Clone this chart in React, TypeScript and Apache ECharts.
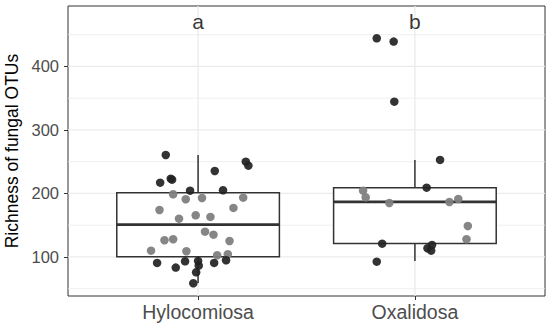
import React, { useEffect, useRef } from "react";
import * as echarts from "echarts";

const categories = ["Hylocomiosa", "Oxalidosa"];
const letters = ["a", "b"];
const yTicks = [100, 200, 300, 400];
const yMinorGrid = [50, 150, 250, 350, 450];
const xTicks = [1, 2];
const yTitle = "Richness of fungal OTUs";

// box stats per category: [lower whisker, Q1, median, Q3, upper whisker]
const hyloBox = [59, 100.5, 151, 201, 260.6];
const oxaBox = [93.7, 121, 186.6, 209, 252.8];

// jittered points: [horizontal jitter offset, richness]
const hyloDark = [
  [-0.149, 260.6], [0.22, 250.1], [0.232, 243.8], [0.077, 235.4], [-0.126, 223.3],
  [-0.12, 221.7], [-0.175, 217], [-0.037, 204.4], [0.115, 205], [-0.189, 90.6],
  [-0.103, 83.2], [-0.06, 93.2], [0.0, 93.7], [0.003, 86.3], [-0.009, 75.9],
  [-0.022, 58.6], [0.074, 90.6], [0.129, 94.8],
];
const hyloGrey = [
  [-0.115, 198.7], [-0.057, 190.9], [0.018, 192.9], [0.208, 193.4], [-0.178, 174],
  [0.163, 177.2], [-0.088, 160.3], [-0.011, 165.6], [0.057, 163], [0.032, 139.8],
  [0.071, 135.1], [-0.155, 126.3], [-0.115, 127.9], [0.145, 125.2], [-0.217, 109.9],
  [-0.054, 109], [0.088, 102.7], [0.137, 104.3],
];
const oxaDark = [
  [-0.176, 444.4], [-0.098, 439.1], [-0.095, 344.6], [0.116, 252.8], [0.054, 209.1],
  [-0.151, 120.9], [0.079, 118.9], [0.058, 113.7], [0.075, 109.9], [-0.176, 92.6],
];
const oxaGrey = [
  [-0.239, 204.4], [-0.227, 194], [-0.118, 185], [0.159, 186.6], [0.2, 191.3],
  [0.244, 148.8], [0.238, 127.9],
];

const letterY = 471;
const FONT = "'Liberation Sans', Arial, sans-serif";

export default function App() {
  const ref = useRef<HTMLDivElement>(null);
  useEffect(() => {
    if (!ref.current) return;
    const chart = echarts.init(ref.current, undefined, { renderer: "svg" });

    const toPts = (arr: number[][], xc: number) => arr.map((p) => [xc + p[0], p[1]]);
    const dark = [...toPts(hyloDark, 1), ...toPts(oxaDark, 2)];
    const grey = [...toPts(hyloGrey, 1), ...toPts(oxaGrey, 2)];

    const gridData = [
      ...yTicks.map((v) => [0, v, 1]),
      ...yMinorGrid.map((v) => [0, v, 0]),
      ...xTicks.map((v) => [1, v, 1]),
    ];

    const boxData = [
      [1, ...hyloBox],
      [2, ...oxaBox],
    ];

    chart.setOption({
      animation: false,
      grid: {
        left: 68,
        right: 5,
        top: 6,
        bottom: 31,
        show: true,
        borderColor: "#333333",
        borderWidth: 1,
        backgroundColor: "#ffffff",
        containLabel: false,
        outerBoundsMode: "none",
      },
      xAxis: {
        type: "value",
        min: 0.4,
        max: 2.6,
        splitLine: { show: false },
        axisLine: { show: false },
        axisTick: { show: true, length: 4, customValues: xTicks, lineStyle: { color: "#333333", width: 1 } },
        axisLabel: {
          customValues: xTicks,
          formatter: (v: number) => categories[Math.round(v) - 1] ?? "",
          fontSize: 19.5,
          fontFamily: FONT,
          color: "#4d4d4d",
          margin: 6,
        },
      },
      yAxis: {
        type: "value",
        min: 38.5,
        max: 495.2,
        splitLine: { show: false },
        axisLine: { show: false },
        axisTick: { show: true, length: 4, customValues: yTicks, lineStyle: { color: "#333333", width: 1 } },
        axisLabel: {
          customValues: yTicks,
          fontSize: 16.5,
          fontFamily: FONT,
          color: "#4d4d4d",
          margin: 9,
        },
        name: yTitle,
        nameLocation: "middle",
        nameRotate: 90,
        nameGap: 41,
        nameTextStyle: { fontSize: 17.5, fontFamily: FONT, color: "#000000" },
      },
      series: [
        {
          type: "custom",
          z: 1,
          silent: true,
          data: gridData,
          renderItem: (params: any, api: any) => {
            const cs = params.coordSys;
            const isX = api.value(0) === 1;
            const v = api.value(1);
            const major = api.value(2) === 1;
            const style = { stroke: "#ebebeb", lineWidth: major ? 1.3 : 0.8 };
            if (isX) {
              const x = api.coord([v, 100])[0];
              return { type: "line", shape: { x1: x, y1: cs.y, x2: x, y2: cs.y + cs.height }, style };
            }
            const y = api.coord([1, v])[1];
            return { type: "line", shape: { x1: cs.x, y1: y, x2: cs.x + cs.width, y2: y }, style };
          },
        },
        {
          type: "custom",
          z: 2,
          silent: true,
          data: boxData,
          renderItem: (params: any, api: any) => {
            const x = api.value(0);
            const lo = api.value(1), q1 = api.value(2), med = api.value(3), q3 = api.value(4), hi = api.value(5);
            const xl = api.coord([x - 0.375, q3])[0];
            const xr = api.coord([x + 0.375, q3])[0];
            const cx = api.coord([x, q3])[0];
            const yLo = api.coord([x, lo])[1];
            const yQ1 = api.coord([x, q1])[1];
            const yMed = api.coord([x, med])[1];
            const yQ3 = api.coord([x, q3])[1];
            const yHi = api.coord([x, hi])[1];
            const st = { stroke: "#333333", lineWidth: 1.5 };
            return {
              type: "group",
              children: [
                { type: "line", shape: { x1: cx, y1: yHi, x2: cx, y2: yQ3 }, style: st },
                { type: "line", shape: { x1: cx, y1: yQ1, x2: cx, y2: yLo }, style: st },
                { type: "rect", shape: { x: xl, y: yQ3, width: xr - xl, height: yQ1 - yQ3 }, style: { ...st, fill: "#ffffff" } },
                { type: "line", shape: { x1: xl, y1: yMed, x2: xr, y2: yMed }, style: { stroke: "#333333", lineWidth: 2.8 } },
              ],
            };
          },
        },
        {
          type: "scatter",
          z: 3,
          data: grey,
          symbolSize: 8.5,
          itemStyle: { color: "#7f7f7f", opacity: 0.95 },
        },
        {
          type: "scatter",
          z: 4,
          data: dark,
          symbolSize: 8.5,
          itemStyle: { color: "#222222", opacity: 0.92 },
        },
        {
          type: "scatter",
          z: 5,
          silent: true,
          data: xTicks.map((x) => [x, letterY]),
          symbolSize: 0,
          itemStyle: { color: "transparent" },
          label: {
            show: true,
            position: "inside",
            formatter: (p: any) => letters[p.dataIndex],
            fontSize: 21,
            fontFamily: FONT,
            color: "#000000",
          },
        },
      ],
    });
    return () => chart.dispose();
  }, []);
  return <div ref={ref} style={{ width: 550, height: 327, position: "absolute", left: 0, top: 0 }} />;
}
